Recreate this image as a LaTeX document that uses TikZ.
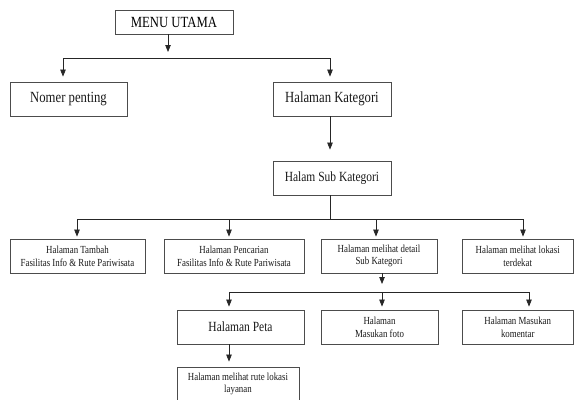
\documentclass[tikz,border=0pt]{standalone}
\usepackage{fontspec}
\setmainfont{Liberation Serif}[FakeStretch=0.82]
\usetikzlibrary{arrows.meta}

\begin{document}
\begin{tikzpicture}[x=1pt,y=-1pt,
  box/.style={draw=black!70, line width=0.8pt, inner sep=0pt, align=center,
              text=black!90, minimum height=34pt},
  big/.style={font=\fontsize{15.5}{18}\selectfont},
  mid/.style={font=\fontsize{14}{16}\selectfont},
  small/.style={font=\fontsize{10.8}{12.8}\selectfont},
  link/.style={draw=black!85, line width=0.75pt},
  arr/.style={link, -{Triangle[length=7pt,width=5.5pt]}}
]
\useasboundingbox (0,0) rectangle (575,399);
\begin{scope}
\clip (0,0) rectangle (575,399);

% pages
\node[box, font=\fontsize{15.5}{18}\selectfont, text=black, minimum width=118pt, minimum height=24pt] (menu) at (174,22) {MENU UTAMA};
\node[box, big, minimum width=117pt] (nomer) at (68.5,99) {Nomer penting};
\node[box, big, minimum width=118pt] (kat) at (332,99) {Halaman Kategori};
\node[box, mid, minimum width=118pt] (sub) at (332,178) {Halam Sub Kategori};

\node[box, small, minimum width=135pt] (t1) at (77.5,256) {Halaman Tambah\\Fasilitas Info \& Rute Pariwisata};
\node[box, small, minimum width=140pt] (t2) at (234,256) {Halaman Pencarian\\Fasilitas Info \& Rute Pariwisata};
\node[box, small, minimum width=116pt] (t3) at (379,256) {Halaman melihat detail\\Sub Kategori};
\node[box, small, minimum width=111.5pt] (t4) at (517.75,256) {Halaman melihat lokasi\\terdekat};

\node[box, mid, minimum width=127pt] (peta) at (240.5,327) {Halaman Peta};
\node[box, small, minimum width=117pt] (foto) at (379.5,327) {Halaman\\Masukan foto};
\node[box, small, minimum width=111.5pt] (kom) at (517.75,327) {Halaman Masukan\\komentar};

\node[box, small, minimum width=122pt] (rute) at (238,384) {Halaman melihat rute lokasi\\layanan};

% menu utama branches
\coordinate (m0) at (168,58);
\coordinate (b1l) at (63,58);
\coordinate (b1r) at (330,58);
\draw[arr, shorten >=6pt] (menu.south -| m0) -- (m0);
\draw[link] (b1l) -- (b1r);
\draw[arr, shorten >=5pt] (b1l) -- (b1l |- nomer.north);
\draw[arr, shorten >=5pt] (b1r) -- (b1r |- kat.north);
\draw[arr, shorten >=11pt] (kat.south -| b1r) -- (b1r |- sub.north);

% sub kategori branches
\coordinate (b2) at (330,219);
\coordinate (c1) at (77,219);
\coordinate (c2) at (229,219);
\coordinate (c3) at (376,219);
\coordinate (c4) at (523,219);
\draw[link] (sub.south -| b2) -- (b2);
\draw[link] (c1) -- (c4);
\foreach \c/\n in {c1/t1,c2/t2,c3/t3,c4/t4}
  \draw[arr, shorten >=2pt] (\c) -- (\c |- \n.north);

% detail sub kategori branches
\coordinate (d1) at (229,292);
\coordinate (d2) at (382,292);
\coordinate (d3) at (529,292);
\draw[arr, shorten >=8pt] (t3.south -| d2) -- (d2);
\draw[link] (d1) -- (d3);
\foreach \c/\n in {d1/peta,d2/foto,d3/kom}
  \draw[arr, shorten >=3pt] (\c) -- (\c |- \n.north);

\draw[arr, shorten >=5pt] (peta.south -| d1) -- (d1 |- rute.north);
\end{scope}
\end{tikzpicture}
\end{document}
